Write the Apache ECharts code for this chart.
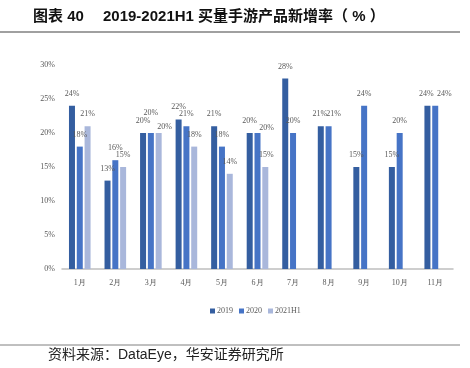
<!DOCTYPE html>
<html>
<head>
<meta charset="utf-8">
<script src="https://cdn.jsdelivr.net/npm/echarts@6/dist/echarts.min.js"></script>
<style>html,body{margin:0;padding:0;background:#fff;}#c{width:470px;height:368px;}</style>
</head>
<body>
<div id="c"></div>
<script>
var categories = ['1月','2月','3月','4月','5月','6月','7月','8月','9月','10月','11月'];
var seriesNames = ['2019','2020','2021H1'];
var v2019 = [24, 13, 20, 22, 21, 20, 28, 21, 15, 15, 24];
var v2020 = [18, 16, 20, 21, 18, 20, 20, 21, 24, 20, 24];
var v2021H1 = [21, 15, 20, 18, 14, 15, null, null, null, null, null];
var yTicks = [0, 5, 10, 15, 20, 25, 30];

// label nudges (pixel offsets) for overlapping data labels, keyed "series|category"
var labelNudge = {
  '2020|3月': [0, -8],
  '2021H1|3月': [6, 6],
  '2020|6月': [9, 7],
  '2021H1|6月': [1, 0],
  '2020|8月': [5, 0],
  '2019|8月': [-1, 0],
  '2020|11月': [9, 0],
  '2019|11月': [-1, 0]
};

var colors = ['#345EA0', '#4674C6', '#A9B7DB'];
var serif = '"Liberation Serif","Times New Roman",serif';
var chart = echarts.init(document.getElementById('c'), null, {renderer: 'canvas'});

function mk(name, data, color) {
  var d = data.map(function (v, i) {
    var key = name + '|' + categories[i];
    var item = {value: v};
    if (labelNudge[key]) item.label = {offset: labelNudge[key]};
    return item;
  });
  return {
    name: name, type: 'bar', data: d,
    barWidth: 6, barGap: '30%',
    itemStyle: {color: color},
    label: {show: true, position: 'top', distance: 8, formatter: '{c}%',
      fontFamily: serif, fontSize: 8, color: '#595959'}
  };
}

chart.setOption({
  animation: false,
  color: colors,
  grid: {left: 62, right: 17, top: 65, bottom: 99},
  legend: {
    data: seriesNames, left: 205, top: 302, itemWidth: 5, itemHeight: 5, itemGap: 6,
    icon: 'rect', textStyle: {fontFamily: serif, fontSize: 8, color: '#595959', padding: [0,0,0,-3]}
  },
  xAxis: {
    type: 'category', data: categories,
    axisLine: {lineStyle: {color: '#BFBFBF', width: 1.5}},
    axisTick: {show: false},
    axisLabel: {fontFamily: serif, fontSize: 8, color: '#595959', margin: 10}
  },
  yAxis: {
    type: 'value', min: yTicks[0], max: yTicks[yTicks.length-1], interval: 5,
    splitLine: {show: false}, axisLine: {show: false}, axisTick: {show: false},
    axisLabel: {formatter: '{value}%', fontFamily: serif, fontSize: 8, color: '#595959', margin: 7}
  },
  series: [mk(seriesNames[0], v2019, colors[0]), mk(seriesNames[1], v2020, colors[1]), mk(seriesNames[2], v2021H1, colors[2])],
  graphic: [
    {type: 'text', left: 33, top: 9, style: {text: '图表 40', font: 'bold 15px "Liberation Sans","Noto Sans CJK SC",sans-serif', fill: '#111'}},
    {type: 'text', left: 103, top: 9, style: {text: '2019-2021H1 买量手游产品新增率（ % ）', font: 'bold 15px "Liberation Sans","Noto Sans CJK SC",sans-serif', fill: '#111'}},
    {type: 'line', shape: {x1: 0, y1: 32, x2: 460, y2: 32}, style: {stroke: '#808080', lineWidth: 1.5}},
    {type: 'line', shape: {x1: 0, y1: 345, x2: 460, y2: 345}, style: {stroke: '#808080', lineWidth: 1}},
    {type: 'text', left: 48, top: 348, style: {text: '资料来源：DataEye，华安证券研究所', font: '14px "Liberation Sans","Noto Sans CJK SC",sans-serif', fill: '#222'}}
  ]
});
</script>
</body>
</html>
